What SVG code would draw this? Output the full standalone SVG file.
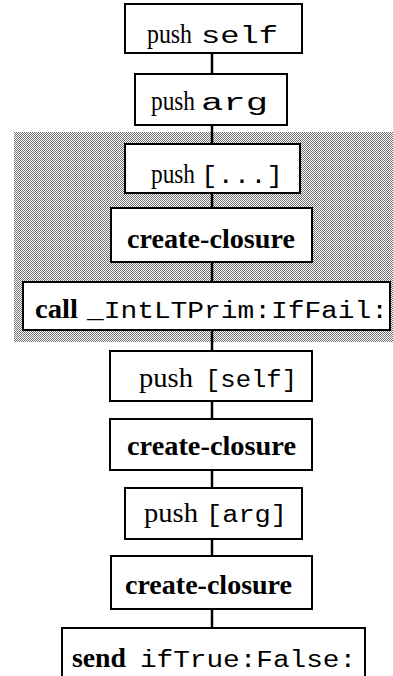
<svg xmlns="http://www.w3.org/2000/svg" width="393" height="676" viewBox="0 0 393 676">
<defs>
<pattern id="dots" patternUnits="userSpaceOnUse" width="2" height="2">
<rect x="0" y="0" width="2" height="2" fill="#ffffff"/>
<rect x="0" y="0" width="1" height="1" fill="#707070"/>
<rect x="1" y="1" width="1" height="1" fill="#707070"/>
</pattern>
</defs>
<style>
.box{fill:#ffffff;stroke:#000000;stroke-width:2}
.lbl{font-family:"Liberation Serif","Times New Roman",serif;font-size:27px;fill:#000000}
.b{font-weight:bold;font-size:28px}
.m{font-family:"Liberation Mono","Courier New",monospace;font-size:23px;font-weight:normal}
.conn line{stroke:#000000;stroke-width:2.5}
</style>
<rect id="shade" x="14" y="132" width="381" height="210" fill="url(#dots)"/>
<g class="conn" id="connectors">
<line x1="212" y1="53" x2="212" y2="74"/>
<line x1="212" y1="125" x2="212" y2="144"/>
<line x1="212" y1="193" x2="212" y2="208"/>
<line x1="212" y1="262" x2="212" y2="282"/>
<line x1="212" y1="330" x2="212" y2="351"/>
<line x1="212" y1="401" x2="212" y2="419"/>
<line x1="212" y1="470" x2="212" y2="488"/>
<line x1="212" y1="539" x2="212" y2="556"/>
<line x1="212" y1="609" x2="212" y2="628"/>
</g>
<g id="n1"><rect class="box" x="125" y="4" width="177" height="49"/>
<text class="lbl" y="43"><tspan x="147" textLength="45" lengthAdjust="spacingAndGlyphs">push</tspan><tspan class="m" x="201" textLength="77" lengthAdjust="spacingAndGlyphs">self</tspan></text></g>
<g id="n2"><rect class="box" x="135" y="74" width="152" height="51"/>
<text class="lbl" y="110"><tspan x="151" textLength="44" lengthAdjust="spacingAndGlyphs">push</tspan><tspan class="m" x="201" textLength="67" lengthAdjust="spacingAndGlyphs">arg</tspan></text></g>
<g id="n3"><rect class="box" x="125" y="144" width="175" height="49"/>
<text class="lbl" y="183"><tspan x="151" textLength="44" lengthAdjust="spacingAndGlyphs">push</tspan><tspan class="m" x="201" textLength="82" lengthAdjust="spacingAndGlyphs">[...]</tspan></text></g>
<g id="n4"><rect class="box" x="111" y="208" width="201" height="54"/>
<text class="lbl b" x="127" y="248" textLength="168" lengthAdjust="spacingAndGlyphs">create-closure</text></g>
<g id="n5"><rect class="box" x="23" y="282" width="367" height="48"/>
<text class="lbl" y="318"><tspan class="b" x="35" textLength="43" lengthAdjust="spacingAndGlyphs">call</tspan><tspan class="m" x="87" textLength="301" lengthAdjust="spacingAndGlyphs">_IntLTPrim:IfFail:</tspan></text></g>
<g id="n6"><rect class="box" x="110" y="351" width="202" height="50"/>
<text class="lbl" y="387"><tspan x="139" textLength="54" lengthAdjust="spacingAndGlyphs">push</tspan><tspan class="m" x="205" textLength="92" lengthAdjust="spacingAndGlyphs">[self]</tspan></text></g>
<g id="n7"><rect class="box" x="110" y="419" width="202" height="51"/>
<text class="lbl b" x="127" y="455" textLength="169" lengthAdjust="spacingAndGlyphs">create-closure</text></g>
<g id="n8"><rect class="box" x="125" y="488" width="177" height="51"/>
<text class="lbl" y="522"><tspan x="144" textLength="54" lengthAdjust="spacingAndGlyphs">push</tspan><tspan class="m" x="206" textLength="81" lengthAdjust="spacingAndGlyphs">[arg]</tspan></text></g>
<g id="n9"><rect class="box" x="111" y="556" width="201" height="53"/>
<text class="lbl b" x="125" y="594" textLength="167" lengthAdjust="spacingAndGlyphs">create-closure</text></g>
<g id="n10"><path class="box" d="M62 690 V628 H365 V690"/>
<text class="lbl" y="667"><tspan class="b" x="72" textLength="54" lengthAdjust="spacingAndGlyphs">send</tspan><tspan class="m" x="140" textLength="216" lengthAdjust="spacingAndGlyphs">ifTrue:False:</tspan></text></g>
</svg>
